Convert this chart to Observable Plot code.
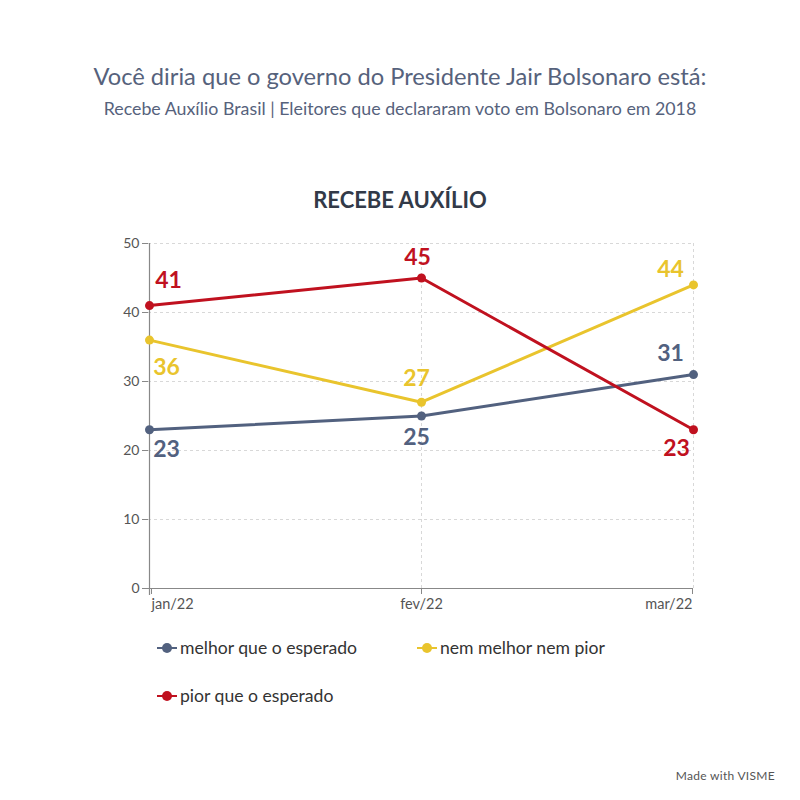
<!DOCTYPE html>
<html>
<head>
<meta charset="utf-8">
<script src="https://cdn.jsdelivr.net/npm/d3@7"></script>
<script src="https://cdn.jsdelivr.net/npm/@observablehq/plot@0.6"></script>
<style>
  body { margin: 0; background: #fff; font-family: Lato, "Noto Sans", sans-serif; }
  #wrap { position: relative; width: 800px; height: 800px; overflow: hidden; }
  .abs { position: absolute; white-space: nowrap; }
  #title { left: 0; width: 800px; top: 62px; text-align: center; font-size: 23.7px; color: #56627c; }
  #subtitle { left: 0; width: 800px; top: 97px; text-align: center; font-size: 17.8px; color: #56627c; }
  #ctitle { left: 0; width: 800px; top: 186px; text-align: center; font-size: 22px; font-weight: bold; color: #323a48; }
  .leg { font-size: 17.6px; color: #333; display: flex; align-items: center; }
  .sym { position: relative; width: 20px; height: 10px; margin-right: 3px; }
  .sym .ln { position: absolute; left: 0; top: 4px; width: 20px; height: 2px; }
  .sym .dt { position: absolute; left: 5px; top: 0; width: 10px; height: 10px; border-radius: 5px; }
  #made { right: 25px; top: 768px; font-size: 12px; color: #555; letter-spacing: 0.3px; }
  #chart { position: absolute; left: 0; top: 0; }
</style>
</head>
<body>
<div id="wrap">
  <div id="chart"></div>
  <div class="abs" id="title">Você diria que o governo do Presidente Jair Bolsonaro está:</div>
  <div class="abs" id="subtitle">Recebe Auxílio Brasil | Eleitores que declararam voto em Bolsonaro em 2018</div>
  <div class="abs" id="ctitle">RECEBE AUXÍLIO</div>
  <div id="legend"></div>
  <div class="abs" id="made">Made with VISME</div>
</div>
<script>
const months = ["jan/22", "fev/22", "mar/22"];
const seriesNames = ["melhor que o esperado", "nem melhor nem pior", "pior que o esperado"];
const colors = ["#52617f", "#e9c42d", "#c0111f"];
const melhor = [23, 25, 31];
const nem = [36, 27, 44];
const pior = [41, 45, 23];
const yTicks = [0, 10, 20, 30, 40, 50];

const values = [melhor, nem, pior];
const data = [];
values.forEach((arr, si) => arr.forEach((v, i) => data.push({series: seriesNames[si], month: months[i], value: v, si, i})));

const color = {domain: seriesNames, range: colors};
const f = (si, i) => d => d.si === si && d.i === i;
const lbl = (si, i, dx, dy) => Plot.text(data.filter(f(si, i)), {
  x: "month", y: "value", text: d => String(d.value), fill: "series",
  dx, dy, fontSize: 23, fontWeight: "bold", fontFamily: "Lato, sans-serif"
});
const xAx = (ticks, textAnchor, dx) => Plot.axisX({ticks, textAnchor, dx, tickSize: 6, tickPadding: 4, fontSize: 14.5, color: "#555", stroke: "#888"});

const plot = Plot.plot({
  width: 800, height: 620,
  marginTop: 243, marginBottom: 32, marginLeft: 148, marginRight: 107,
  style: {fontFamily: "Lato, sans-serif", background: "transparent"},
  x: {type: "point", domain: months, padding: 0, label: null},
  y: {domain: [0, 50], label: null},
  color,
  marks: [
    Plot.ruleY(yTicks.filter(t => t > 0), {stroke: "#d8d8d8", strokeDasharray: "3,3", strokeWidth: 1}),
    Plot.ruleX(months.slice(1), {stroke: "#d8d8d8", strokeDasharray: "3,3", strokeWidth: 1}),
    Plot.ruleY([0], {stroke: "#888", strokeWidth: 1.2}),
    Plot.ruleX([months[0]], {y1: -1, y2: 50, stroke: "#888", strokeWidth: 1.2}),
    Plot.axisY({ticks: yTicks, tickSize: 6, tickPadding: 3, fontSize: 14, color: "#555", stroke: "#888"}),
    xAx([months[0]], "start", 2),
    xAx([months[1]], "middle", 0),
    xAx([months[2]], "end", -1),
    Plot.line(data, {x: "month", y: "value", stroke: "series", strokeWidth: 3}),
    Plot.dot(data, {x: "month", y: "value", fill: "series", r: 4.5}),
    lbl(2, 0, 19, -25), lbl(1, 0, 17, 28), lbl(0, 0, 17, 20),
    lbl(2, 1, -4, -20), lbl(1, 1, -5, -24), lbl(0, 1, -5, 22),
    lbl(2, 2, -17, 19), lbl(1, 2, -23, -15), lbl(0, 2, -23, -21)
  ]
});
document.getElementById("chart").appendChild(plot);

const legPos = [[157, 637], [417, 637], [157, 685]];
const legend = document.getElementById("legend");
seriesNames.forEach((name, k) => {
  const el = document.createElement("div");
  el.className = "abs leg";
  el.style.left = legPos[k][0] + "px";
  el.style.top = legPos[k][1] + "px";
  el.innerHTML = `<span class="sym"><span class="ln" style="background:${colors[k]}"></span><span class="dt" style="background:${colors[k]}"></span></span><span>${name}</span>`;
  legend.appendChild(el);
});
</script>
</body>
</html>
